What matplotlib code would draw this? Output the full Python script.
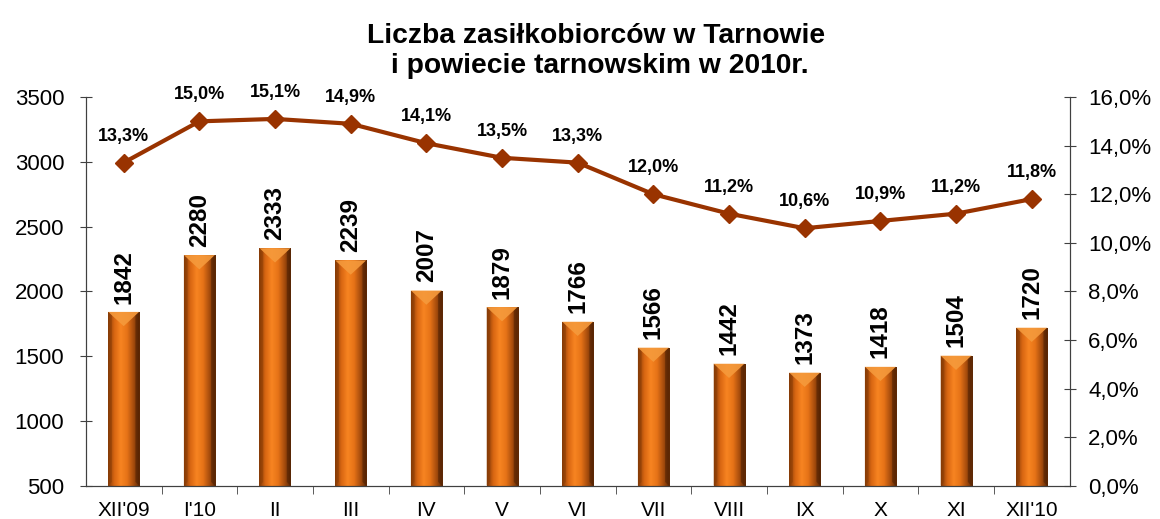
import numpy as np
import matplotlib.pyplot as plt
from matplotlib.patches import Polygon
from matplotlib.ticker import FuncFormatter

plt.rcParams['font.family'] = ['Liberation Sans', 'DejaVu Sans']

# dane
miesiace = ["XII'09", "I'10", "II", "III", "IV", "V", "VI", "VII", "VIII", "IX", "X", "XI", "XII'10"]
liczba = [1842, 2280, 2333, 2239, 2007, 1879, 1766, 1566, 1442, 1373, 1418, 1504, 1720]
stopa = [13.3, 15.0, 15.1, 14.9, 14.1, 13.5, 13.3, 12.0, 11.2, 10.6, 10.9, 11.2, 11.8]

x = np.arange(len(miesiace))
szer = 0.41
dol = 500

fig = plt.figure(figsize=(11.6, 5.19), dpi=100)
ax = fig.add_axes([0.074, 0.064, 0.848, 0.749])
ax2 = ax.twinx()

ax.set_xlim(-0.5, len(miesiace) - 0.5)
ax.set_ylim(500, 3500)

# gradient poziomy dla slupkow
grad = np.linspace(0, 1, 256)
kolory = np.array([
    [0.50, 0.22, 0.03],
    [0.85, 0.40, 0.07],
    [0.97, 0.52, 0.13],
    [0.90, 0.45, 0.09],
    [0.65, 0.30, 0.05],
    [0.35, 0.15, 0.02],
])
pos = np.linspace(0, 1, len(kolory))
img = np.stack([np.interp(grad, pos, kolory[:, c]) for c in range(3)], axis=-1)[None, :, :]

bars = ax.bar(x, np.array(liczba) - dol, bottom=dol, width=szer, color='#d9660f', zorder=2)
bev = 110
for b, v in zip(bars, liczba):
    x0 = b.get_x()
    w = b.get_width()
    im = ax.imshow(img, extent=[x0, x0 + w, dol, v], aspect='auto', zorder=2)
    im.set_clip_path(b)
    # skos u gory
    ax.add_patch(Polygon([[x0, v], [x0 + w, v], [x0 + w / 2, v - bev]],
                         closed=True, facecolor='#f59a3c', edgecolor='none', alpha=0.9, zorder=3))
    ax.add_patch(Polygon([[x0, v], [x0 + w * 0.12, v - bev * 0.25], [x0 + w * 0.12, dol + 30], [x0, dol]],
                         closed=True, facecolor='#8a3d05', edgecolor='none', alpha=0.5, zorder=3))
    ax.add_patch(Polygon([[x0 + w, v], [x0 + w * 0.88, v - bev * 0.25], [x0 + w * 0.88, dol + 30], [x0 + w, dol]],
                         closed=True, facecolor='#4a1e02', edgecolor='none', alpha=0.5, zorder=3))
    ax.annotate(str(v), (x0 + w / 2, v), xytext=(0, 6), textcoords='offset points',
                rotation=90, ha='center', va='bottom', fontsize=17.5, fontweight='bold')

ax.set_xticks(x)
ax.set_xticklabels(miesiace, fontsize=15)
ax.tick_params(axis='x', which='major', length=0, pad=11)
ax.set_xticks(x[:-1] + 0.5, minor=True)
ax.tick_params(axis='x', which='minor', length=6, direction='out', color='#404040')
ax.set_yticks(range(500, 3501, 500))
ax.tick_params(axis='y', labelsize=16, direction='inout', length=9, color='#404040', pad=11)

ax2.set_ylim(0, 16)
ax2.set_yticks(range(0, 17, 2))
ax2.yaxis.set_major_formatter(FuncFormatter(lambda v, p: f"{v:.1f}%".replace('.', ',')))
ax2.tick_params(axis='y', labelsize=16, direction='inout', length=9, color='#404040', pad=9)

ax2.plot(x, stopa, color='#993300', lw=3, marker='D', markersize=9, zorder=5)
for xi, s in zip(x, stopa):
    ax2.annotate(f"{s:.1f}%".replace('.', ','), (xi, s), xytext=(0, 13), textcoords='offset points',
                 ha='center', va='bottom', fontsize=13, fontweight='bold')

for a in (ax, ax2):
    a.spines['top'].set_visible(False)
    for s in ('left', 'right', 'bottom'):
        a.spines[s].set_color('#404040')
ax2.set_zorder(ax.get_zorder() + 1)
ax2.patch.set_visible(False)

fig.text(0.514, 0.956, "Liczba zasiłkobiorców w Tarnowie\n i powiecie tarnowskim w 2010r.",
         ha='center', va='top', fontsize=20.3, fontweight='bold', linespacing=1.2)

fig.savefig("out.png", dpi=100)
